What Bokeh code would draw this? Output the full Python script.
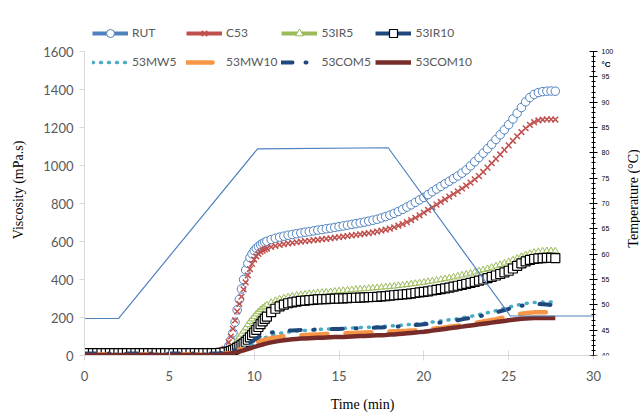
import math
from bokeh.plotting import figure
from bokeh.models import (Range1d, LinearAxis, FixedTicker, Legend, LegendItem,
                          ColumnDataSource, Label)
from bokeh.embed import file_html
from bokeh.resources import INLINE

# ---------------- data ----------------
time_min = [0, 0.25, 0.5, 0.75, 1, 1.25, 1.5, 1.75, 2, 2.25, 2.5, 2.75, 3, 3.25, 3.5, 3.75,
            4, 4.25, 4.5, 4.75, 5, 5.25, 5.5, 5.75, 6, 6.25, 6.5, 6.75, 7, 7.25, 7.5, 7.75,
            8, 8.25,
            8.5, 8.625, 8.75, 8.875, 9, 9.125, 9.25, 9.375, 9.5, 9.625, 9.75, 9.875,
            10, 10.125, 10.25, 10.375, 10.5, 10.625, 10.75,
            11, 11.25, 11.5, 11.75, 12, 12.25, 12.5, 12.75, 13, 13.25, 13.5, 13.75,
            14, 14.25, 14.5, 14.75, 15, 15.25, 15.5, 15.75, 16, 16.25, 16.5, 16.75,
            17, 17.25, 17.5, 17.75, 18, 18.25, 18.5, 18.75, 19, 19.25, 19.5, 19.75,
            20, 20.25, 20.5, 20.75, 21, 21.25, 21.5, 21.75, 22, 22.25, 22.5, 22.75,
            23, 23.25, 23.5, 23.75, 24, 24.25, 24.5, 24.75, 25, 25.25, 25.5, 25.75,
            26, 26.25, 26.5, 26.75, 27, 27.25, 27.5, 27.75]

rut = [15, 15, 15, 15, 15, 15, 15, 15, 15, 15, 15, 15, 15, 15, 15, 15,
       15, 15, 15, 15, 15, 15, 15, 15, 15, 15, 15, 15, 15, 15, 15, 15,
       18, 25,
       50, 80, 120, 175, 240, 295, 350, 400, 450, 485, 515, 535,
       552, 564, 574, 583, 590, 596, 601,
       610, 617, 623, 628, 633, 637, 641, 645, 649, 652, 656, 660,
       663, 667, 670, 674, 678, 682, 686, 690, 694, 698, 702, 707,
       712, 717, 724, 731, 739, 748, 758, 769, 781, 793, 806, 819,
       832, 847, 862, 876, 890, 904, 917, 931, 945, 960, 977, 998,
       1020, 1042, 1065, 1088, 1112, 1137, 1162, 1188, 1215, 1245, 1275, 1305,
       1335, 1358, 1374, 1384, 1389, 1391, 1392, 1391]

c53 = [15, 15, 15, 15, 15, 15, 15, 15, 15, 15, 15, 15, 15, 15, 15, 15,
       15, 15, 15, 15, 15, 15, 15, 15, 15, 15, 15, 15, 15, 15, 15, 15,
       20, 35,
       70, 100, 140, 185, 232, 272, 310, 348, 385, 422, 455, 482,
       505, 522, 535, 545, 552, 558, 563,
       571, 577, 582, 586, 590, 593, 596, 599, 602, 604, 607, 609,
       612, 614, 617, 620, 623, 626, 629, 632, 635, 638, 641, 644,
       648, 652, 657, 662, 668, 675, 683, 692, 702, 713, 725, 738,
       752, 766, 780, 794, 808, 822, 836, 850, 864, 879, 894, 910,
       927, 944, 966, 989, 1012, 1035, 1058, 1082, 1106, 1130, 1154, 1176,
       1196, 1214, 1228, 1237, 1241, 1243, 1243, 1242]

ir5 = [12, 12, 12, 12, 12, 12, 12, 12, 12, 12, 12, 12, 12, 12, 12, 12,
       12, 12, 12, 12, 12, 12, 12, 12, 12, 12, 12, 12, 12, 12, 12, 12,
       15, 20,
       30, 39, 50, 64, 80, 96, 112, 128, 145, 162, 178, 192,
       205, 218, 230, 241, 250, 258, 266,
       279, 289, 297, 303, 308, 313, 317, 320, 323, 326, 328, 330,
       332, 334, 336, 338, 340, 342, 344, 346, 348, 350, 351, 353,
       355, 357, 359, 361, 363, 365, 368, 370, 373, 376, 379, 382,
       385, 389, 392, 396, 400, 404, 408, 413, 418, 423, 428, 433,
       439, 445, 451, 457, 464, 471, 478, 486, 494, 503, 512, 521,
       530, 537, 543, 547, 550, 551, 551, 550]

ir10 = [12, 12, 12, 12, 12, 12, 12, 12, 12, 12, 12, 12, 12, 12, 12, 12,
        12, 12, 12, 12, 12, 12, 12, 12, 12, 12, 12, 12, 12, 12, 12, 12,
        14, 16,
        20, 24, 28, 33, 40, 47, 55, 63, 72, 83, 95, 107,
        120, 135, 150, 165, 180, 193, 205,
        228, 246, 259, 268, 275, 280, 284, 287, 289, 291, 293, 295,
        296, 297, 298, 299, 300, 301, 302, 303, 304, 305, 306, 307,
        308, 309, 311, 313, 315, 317, 319, 321, 323, 326, 329, 332,
        335, 338, 342, 345, 349, 353, 357, 362, 367, 372, 377, 382,
        388, 394, 400, 407, 414, 421, 429, 437, 446, 458, 472, 485,
        495, 503, 508, 511, 513, 514, 514, 513]

mw5 = [8, 8, 8, 8, 8, 8, 8, 8, 8, 8, 8, 8, 8, 8, 8, 8,
       8, 8, 8, 8, 8, 8, 8, 8, 8, 8, 8, 8, 8, 8, 8, 8,
       10, 12,
       15, 17, 20, 23, 27, 31, 35, 39, 44, 49, 54, 59,
       65, 71, 77, 83, 88, 93, 97,
       105, 111, 116, 120, 123, 126, 128, 130, 132, 134, 135, 137,
       138, 139, 140, 141, 142, 143, 144, 145, 146, 147, 148, 149,
       150, 151, 152, 154, 155, 157, 158, 160, 162, 164, 166, 168,
       170, 173, 176, 179, 182, 185, 188, 191, 194, 198, 202, 206,
       210, 215, 220, 225, 230, 236, 242, 248, 254, 260, 265, 270,
       274, 277, 279, 280, 281, 281, 281, 280]

mw10 = [5, 5, 5, 5, 5, 5, 5, 5, 5, 5, 5, 5, 5, 5, 5, 5,
        5, 5, 5, 5, 5, 5, 5, 5, 5, 5, 5, 5, 5, 5, 5, 5,
        7, 9,
        12, 14, 17, 21, 25, 30, 35, 40, 46, 51, 56, 61,
        65, 69, 73, 77, 80, 83, 86,
        91, 95, 98, 101, 103, 105, 106, 107, 108, 109, 110, 111,
        112, 113, 114, 115, 116, 117, 118, 119, 119, 120, 121, 122,
        122, 123, 124, 125, 126, 127, 128, 129, 130, 132, 133, 135,
        137, 139, 141, 143, 145, 148, 151, 154, 157, 160, 163, 167,
        171, 175, 179, 183, 187, 191, 196, 201, 206, 211, 216, 220,
        223, 225, 227, 228, 228, 228, 228, 227]

com5 = [10, 10, 10, 10, 10, 10, 10, 10, 10, 10, 10, 10, 10, 10, 10, 10,
        10, 10, 10, 10, 10, 10, 10, 10, 10, 10, 10, 10, 10, 10, 10, 10,
        12, 15,
        19, 22, 25, 29, 33, 38, 43, 49, 55, 61, 68, 75,
        82, 89, 96, 102, 107, 111, 115,
        121, 125, 128, 130, 131, 132, 133, 134, 135, 136, 136, 137,
        138, 138, 139, 140, 140, 141, 142, 142, 143, 144, 144, 145,
        146, 147, 148, 149, 150, 151, 153, 154, 156, 158, 160, 162,
        164, 166, 169, 171, 174, 177, 180, 183, 186, 190, 194, 198,
        202, 206, 211, 216, 221, 227, 233, 239, 245, 251, 257, 262,
        266, 269, 271, 271, 270, 268, 266, 264]

com10 = [3, 3, 3, 3, 3, 3, 3, 3, 3, 3, 3, 3, 3, 3, 3, 3,
         3, 3, 3, 3, 3, 3, 3, 3, 3, 3, 3, 3, 3, 3, 3, 3,
         4, 6,
         9, 11, 13, 15, 18, 21, 24, 27, 31, 34, 38, 41,
         45, 48, 52, 55, 58, 61, 64,
         69, 73, 77, 80, 83, 85, 87, 89, 90, 91, 92, 93,
         94, 95, 96, 97, 98, 98, 99, 100, 101, 102, 103, 104,
         105, 106, 107, 108, 110, 111, 113, 115, 117, 119, 121, 123,
         125, 128, 131, 134, 137, 140, 143, 146, 149, 152, 155, 158,
         161, 164, 167, 170, 173, 176, 179, 182, 185, 188, 191, 193,
         195, 196, 197, 197, 197, 197, 197, 197]

temp_time = [0, 2, 10.2, 17.9, 25.1, 30]
temp_c = [47.3, 47.3, 80.8, 81.0, 47.8, 47.8]

x_ticks = [0, 5, 10, 15, 20, 25, 30]
visc_ticks = [0, 200, 400, 600, 800, 1000, 1200, 1400, 1600]
temp_ticks = [40, 45, 50, 55, 60, 65, 70, 75, 80, 85, 90, 95, 100]
temp_minor = list(range(40, 101))

# ---------------- layout ----------------
# The plotting frame is larger than the axes (it reaches the canvas' right
# edge and runs above 1600), so the legend's top row and the right-hand
# axis title, which lie outside the axes in the original, are not clipped.
W, H = 640, 414
LEFT, TOP, BOTTOM = 84, 24, 59
X_AXIS_PX = 509          # pixel length of 0..30 min
Y_AXIS_PX = 304          # pixel length of 0..1600 / 40..100 °C
frame_w = W - LEFT
frame_h = H - TOP - BOTTOM
x_end = 30 * frame_w / X_AXIS_PX
visc_end = 1600 * frame_h / Y_AXIS_PX
temp_end = 40 + 60 * frame_h / Y_AXIS_PX

p = figure(width=W, height=H, output_backend="svg", toolbar_location=None,
           x_range=Range1d(0, x_end), y_range=Range1d(0, visc_end),
           min_border_left=LEFT, min_border_right=0,
           min_border_top=TOP, min_border_bottom=BOTTOM)
p.extra_y_ranges = {"temp": Range1d(40, temp_end)}
p.outline_line_color = None
p.grid.visible = False
p.background_fill_color = "white"
p.border_fill_color = "white"

TICK_FONT = "Lato"
TITLE_FONT = "Liberation Serif"

xa = p.xaxis[0]
xa.ticker = FixedTicker(ticks=x_ticks)
xa.bounds = (0, 30)
xa.axis_line_color = "#D9D9D9"
xa.major_tick_line_color = "#D9D9D9"
xa.major_tick_in = 5
xa.major_tick_out = 5
xa.minor_tick_line_color = None
xa.major_label_text_font = TICK_FONT
xa.major_label_text_font_size = "13px"
xa.major_label_text_color = "#595959"
xa.major_label_standoff = 10
xa.axis_label = "Time (min)"
xa.axis_label_text_font = TITLE_FONT
xa.axis_label_text_font_size = "14px"
xa.axis_label_text_font_style = "normal"
xa.axis_label_text_color = "black"
xa.axis_label_standoff = 13

ya = p.yaxis[0]
ya.ticker = FixedTicker(ticks=visc_ticks)
ya.bounds = (0, 1600)
ya.axis_line_color = "#D9D9D9"
ya.major_tick_line_color = "#D9D9D9"
ya.major_tick_in = 0
ya.major_tick_out = 5
ya.minor_tick_line_color = None
ya.major_label_text_font = TICK_FONT
ya.major_label_text_font_size = "13px"
ya.major_label_text_color = "#595959"
ya.major_label_standoff = 6
ya.axis_label = "Viscosity (mPa.s)"
ya.axis_label_text_font = TITLE_FONT
ya.axis_label_text_font_size = "14px"
ya.axis_label_text_font_style = "normal"
ya.axis_label_text_color = "black"
ya.axis_label_standoff = 14

# right-hand temperature axis, pinned at t = 30 min
ra = LinearAxis(y_range_name="temp", bounds=(40, 100), fixed_location=30,
                ticker=FixedTicker(ticks=temp_ticks, minor_ticks=temp_minor),
                axis_line_color="black", major_tick_line_color="black",
                minor_tick_line_color="black",
                major_tick_in=4, major_tick_out=4, minor_tick_in=2, minor_tick_out=2,
                major_label_text_font="Liberation Sans", major_label_text_font_size="7px",
                major_label_text_color="black", major_label_standoff=4)
p.add_layout(ra, "right")

p.add_layout(Label(x=30, y=97.4, y_range_name="temp", x_offset=8, text="°C",
                   text_font="Liberation Sans", text_font_size="8px",
                   text_font_style="bold", text_baseline="middle", text_color="black"))

# right axis title, rotated to read upward (as in the original)
px_per_min = X_AXIS_PX / 30
px_per_c = Y_AXIS_PX / 60
p.add_layout(Label(x=30 + 40 / px_per_min, y=40 + (355 - 198) / px_per_c,
                   y_range_name="temp", angle=math.pi / 2, text="Temperature (°C)",
                   text_font=TITLE_FONT, text_font_size="14px", text_color="black",
                   text_align="center", text_baseline="middle"))

src = ColumnDataSource(dict(t=time_min, rut=rut, c53=c53, ir5=ir5, ir10=ir10,
                            mw5=mw5, mw10=mw10, com5=com5, com10=com10))

BLUE, RED, GREEN, NAVY, AQUA, ORANGE, MAROON = ("#4F81BD", "#C0504D", "#9BBB59", "#1F497D",
                                               "#4BACC6", "#F79646", "#772C2A")
NAN = float("nan")

def legend_line(color):
    # legend-only line swatch (a single undefined point draws nothing in the plot)
    return p.line(x=[NAN], y=[NAN], line_color=color, line_width=4)

# RUT
l_rut = legend_line(BLUE)
s_rut = p.scatter("t", "rut", source=src, marker="circle", size=8.5,
                  line_color=BLUE, fill_color="white", line_width=1)
# C53
l_c53 = legend_line(RED)
s_c53 = p.scatter("t", "c53", source=src, marker="x", size=8,
                  line_color=RED, line_width=1.5)
# 53IR5
l_ir5 = legend_line(GREEN)
p.line("t", "ir5", source=src, line_color=GREEN, line_width=1.5)
s_ir5 = p.scatter("t", "ir5", source=src, marker="triangle", size=6.5,
                  line_color=GREEN, fill_color="white", line_width=1)
# 53IR10
l_ir10 = legend_line(NAVY)
s_ir10 = p.scatter("t", "ir10", source=src, marker="square", size=9,
                   line_color="black", fill_color="white", line_width=1.2)
# lines
r_mw5 = p.line("t", "mw5", source=src, line_color=AQUA, line_width=3.5,
               line_dash="1 7", line_cap="round")
r_mw10 = p.line("t", "mw10", source=src, line_color=ORANGE, line_width=4.5,
                line_dash="26 18", line_cap="round")
r_com5 = p.line("t", "com5", source=src, line_color=NAVY, line_width=4,
                line_dash="11 13 1 17", line_cap="round")
r_com10 = p.line("t", "com10", source=src, line_color=MAROON, line_width=4.5)

# temperature (secondary axis)
p.line(temp_time, temp_c, y_range_name="temp", line_color=BLUE, line_width=1.2)

legend = Legend(items=[
    LegendItem(label="RUT", renderers=[l_rut, s_rut]),
    LegendItem(label="C53", renderers=[l_c53, s_c53]),
    LegendItem(label="53IR5", renderers=[l_ir5, s_ir5]),
    LegendItem(label="53IR10", renderers=[l_ir10, s_ir10]),
    LegendItem(label="53MW5", renderers=[r_mw5]),
    LegendItem(label="53MW10", renderers=[r_mw10]),
    LegendItem(label="53COM5", renderers=[r_com5]),
    LegendItem(label="53COM10", renderers=[r_com10]),
], location=(8, 281), orientation="horizontal", ncols=4,
    glyph_width=36, glyph_height=20, label_standoff=4, label_width=50,
    label_height=25, spacing=4, padding=0, margin=0,
    border_line_color=None, background_fill_alpha=0,
    label_text_font=TICK_FONT, label_text_font_size="12px",
    label_text_color="#595959", label_text_baseline="middle")
p.add_layout(legend, "center")

open("out.html", "w").write(file_html(p, INLINE))
